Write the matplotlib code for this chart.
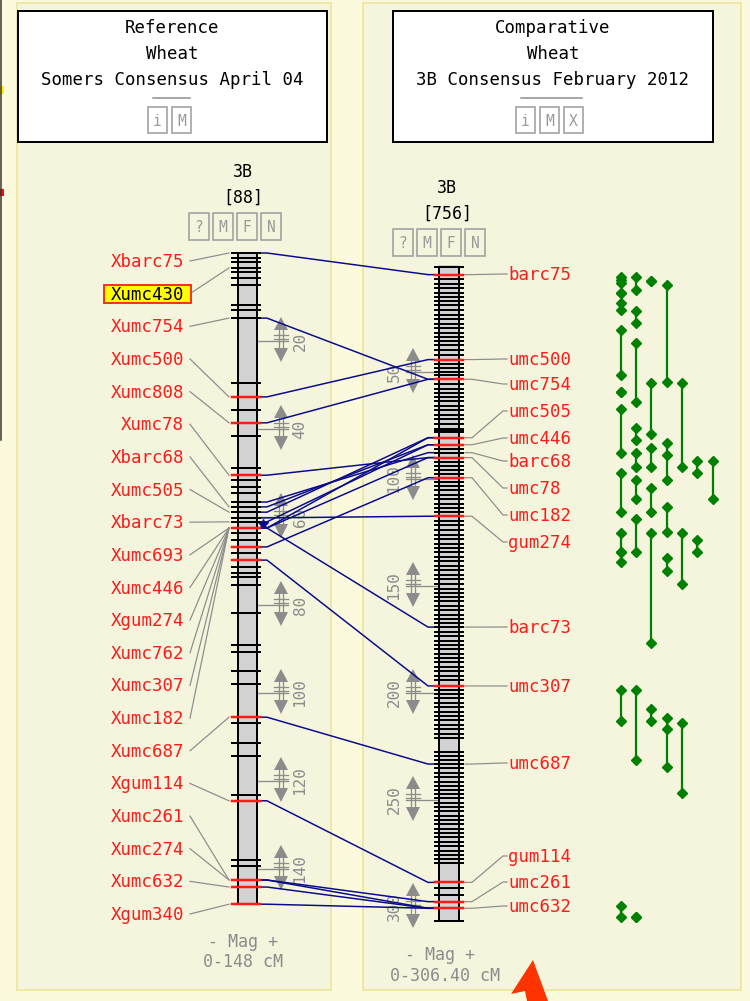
import matplotlib.pyplot as plt
from matplotlib.patches import Rectangle, Polygon

# ---- reference map : Wheat, Somers Consensus April 04, 3B, 0-148 cM
ref_len = 148.0
ref_ticks = [0, 1.1, 2.0, 3.4, 4.3, 5.7, 7.3, 11.8, 13.0, 14.8, 29.5, 32.7, 35.7,
             38.6, 41.6, 48.9, 50.5, 51.6, 53.2, 54.5, 56.6, 57.7, 58.9, 60.2, 61.1,
             62.5, 63.6, 65.2, 66.8, 68.2, 69.8, 71.4, 72.7, 73.6, 75.5, 81.8, 89.1,
             90.7, 95.0, 97.9, 105.5, 106.8, 111.4, 114.3, 123.2, 124.5, 138.0,
             139.3, 142.5, 144.1, 148.0]
ref_red = [32.7, 38.6, 50.5, 62.5, 66.8, 69.8, 105.5, 124.5, 142.5, 144.1, 148.0]
ref_names = ["Xbarc75", "Xumc430", "Xumc754", "Xumc500", "Xumc808", "Xumc78",
             "Xbarc68", "Xumc505", "Xbarc73", "Xumc693", "Xumc446", "Xgum274",
             "Xumc762", "Xumc307", "Xumc182", "Xumc687", "Xgum114", "Xumc261",
             "Xumc274", "Xumc632", "Xgum340"]
ref_name_cm = [0, 3.4, 14.8, 32.7, 38.6, 50.5, 57.7, 58.9, 61.1, 62.5, 62.5, 62.5,
               62.5, 62.5, 62.5, 105.5, 124.5, 142.5, 142.5, 144.1, 148.0]
ref_scale = [20, 40, 60, 80, 100, 120, 140]

# ---- comparative map : Wheat, 3B Consensus February 2012, 3B, 0-306.40 cM
comp_len = 306.4
comp_ticks = [0.9, 4.5, 6.7, 8.7, 10.7, 12.9, 14.9, 17.0, 18.9, 21.2, 23.2, 25.4,
              27.4, 29.4, 31.6, 33.6, 35.7, 37.5, 39.9, 41.9, 44.2, 46.1, 48.1,
              50.0, 51.6, 53.4, 55.5, 57.8, 59.7, 61.7, 63.7, 65.9, 67.9, 69.9,
              72.1, 74.1, 76.5, 77.3, 77.9, 80.7, 84.0, 85.8, 87.7, 90.0, 92.1,
              93.9, 95.9, 97.5, 99.4, 101.4, 103.3, 105.3, 107.3, 109.5, 111.5,
              113.6, 115.4, 117.4, 119.8, 121.7, 124.0, 126.0, 127.9, 130.2, 132.2,
              134.1, 136.5, 138.5, 140.7, 142.7, 144.7, 146.9, 148.9, 151.3, 153.4,
              155.2, 157.2, 159.5, 161.4, 163.4, 165.4, 167.2, 169.2, 171.3, 173.5,
              175.5, 177.5, 179.4, 181.7, 183.7, 185.6, 187.9, 189.9, 192.0, 193.9,
              196.7, 198.6, 200.5, 202.5, 204.5, 206.6, 208.8, 210.8, 212.8, 214.9,
              216.9, 219.0, 221.0, 227.4, 229.3, 231.3, 233.2, 235.2, 237.2, 239.4,
              241.4, 243.5, 245.3, 247.4, 249.2, 251.2, 253.1, 255.2, 257.3, 259.3,
              261.4, 263.6, 265.6, 267.5, 269.5, 271.5, 273.7, 275.7, 277.7, 279.6,
              288.5, 291.3, 294.4, 297.5, 300.6, 306.4]
comp_red = [4.5, 44.2, 53.4, 80.7, 84.0, 90.0, 99.4, 117.4, 196.7, 288.5, 297.5, 300.6]
comp_names = ["barc75", "umc500", "umc754", "umc505", "umc446", "barc68", "umc78",
              "umc182", "gum274", "barc73", "umc307", "umc687", "gum114", "umc261",
              "umc632"]
comp_name_cm = [4.5, 44.2, 53.4, 80.7, 84.0, 87.7, 90.0, 99.4, 117.4, 169.2, 196.7,
                233.2, 288.5, 297.5, 300.6]
comp_scale = [50, 100, 150, 200, 250, 300]

# ---- correspondences (ref cM -> comp cM)
link_ref = [0, 14.8, 32.7, 38.6, 50.5, 56.6, 57.7, 58.9, 61.1, 62.5, 62.5, 60.2,
            66.8, 62.5, 69.8, 105.5, 124.5, 142.5, 142.5, 144.1, 148.0]
link_comp = [4.5, 53.4, 44.2, 53.4, 90.0, 87.7, 84.0, 80.7, 84.0, 80.7, 90.0, 117.4,
             99.4, 169.2, 196.7, 233.2, 288.5, 297.5, 300.6, 300.6, 300.6]

# ---- green correspondence spans beside the comparative map (column, top, bottom cM)
span_col = [1, 1, 1, 1, 1, 1, 1, 1, 1, 1, 1,
            2, 2, 2, 2, 2, 2, 2, 2, 2,
            3, 3, 3, 3, 3, 3,
            4, 4, 4, 4, 4,
            5, 5, 5,
            6, 6,
            7]
span_top = [5.6, 13.1, 17.8, 30.4, 59.3, 67.3, 97.2, 125.2, 134.1, 198.6, 299.5,
            5.6, 21.5, 36.4, 76.2, 87.9, 100.5, 118.7, 198.6, 304.7,
            7.5, 55.1, 85.5, 104.2, 125.2, 207.5,
            9.3, 83.2, 113.1, 136.9, 211.7,
            55.1, 125.2, 214.0,
            91.6, 128.5,
            91.6]
span_bot = [8.4, 13.1, 21.0, 51.4, 59.3, 87.9, 115.4, 134.1, 138.8, 213.1, 304.7,
            11.7, 27.1, 64.0, 81.8, 94.4, 109.3, 134.1, 231.3, 304.7,
            7.5, 79.0, 94.4, 115.4, 176.6, 213.1,
            54.7, 100.5, 124.8, 143.0, 234.6,
            94.4, 149.1, 246.7,
            97.2, 134.1,
            109.3]
extra_col = [4, 4, 1]
extra_cm = [88.8, 216.8, 7.0]

# ---------------------------------------------------------------------------
FONT = "DejaVu Sans Mono"
NAVY = "#0a0a8c"
GREY = "#8c8c8c"
RED = "#ff1a1a"
PX = 0.72  # one pixel in points at 100 dpi

def ry(cm):
    return 253 + cm * 4.4

def cy(cm):
    return 265 + cm * 2.14

fig = plt.figure(figsize=(7.5, 10.01), dpi=100, facecolor="#fbfadc")
ax = fig.add_axes([0, 0, 1, 1])
ax.set_xlim(0, 750)
ax.set_ylim(1001, 0)
ax.axis("off")

# panels
for x0, x1 in [(17, 331), (363, 741)]:
    ax.add_patch(Rectangle((x0, 3), x1 - x0, 987, facecolor="#f5f4dc",
                           edgecolor="#efe7a6", lw=2 * PX, zorder=0))
# bits of the neighbouring panel at the far left
ax.plot([1, 1], [0, 440], color="#333333", lw=1.5 * PX)
ax.add_patch(Rectangle((0, 86), 4, 8, facecolor="#ffee00", edgecolor="none"))
ax.add_patch(Rectangle((0, 189), 4, 7, facecolor="#ee1111", edgecolor="none"))


def button_row(xs, y, letters, w=19, h=26, fill="white"):
    for x, ch in zip(xs, letters):
        ax.add_patch(Rectangle((x, y), w, h, facecolor=fill, edgecolor="#a0a0a0",
                               lw=1.6 * PX, zorder=3))
        ax.text(x + w / 2, y + h / 2 + 1, ch, ha="center", va="center", color="#9a9a9a",
                fontsize=10.5, family=FONT, zorder=4)


# title boxes
def title_box(x0, x1, lines, xs, letters, rule):
    ax.add_patch(Rectangle((x0, 11), x1 - x0, 131, facecolor="white",
                           edgecolor="black", lw=2 * PX, zorder=2))
    xc = (x0 + x1) / 2
    for i, t in enumerate(lines):
        ax.text(xc, 28 + 26 * i, t, ha="center", va="center", fontsize=12.5,
                family=FONT, color="black", zorder=3)
    ax.plot(rule, [98, 98], color="#8c8c8c", lw=1.5 * PX, zorder=3)
    button_row(xs, 107, letters)


title_box(18, 327, ["Reference", "Wheat", "Somers Consensus April 04"],
          [148, 172], ["i", "M"], [153, 190])
title_box(393, 713, ["Comparative", "Wheat", "3B Consensus February 2012"],
          [516, 540, 564], ["i", "M", "X"], [521, 582])

# map headers
ax.text(243, 172, "3B", ha="center", va="center", fontsize=12, family=FONT)
ax.text(243, 198, "[88]", ha="center", va="center", fontsize=12, family=FONT)
button_row([189, 213, 237, 261], 213, ["?", "M", "F", "N"], w=20, h=27, fill="#f5f4dc")
ax.text(447, 188, "3B", ha="center", va="center", fontsize=12, family=FONT)
ax.text(447, 214, "[756]", ha="center", va="center", fontsize=12, family=FONT)
button_row([393, 417, 441, 465], 229, ["?", "M", "F", "N"], w=20, h=27, fill="#f5f4dc")


# scale glyphs
def scale_mark(xa, y, label, xnum, lx0, lx1):
    ax.plot([lx0, lx1], [y, y], color=GREY, lw=1.3 * PX, zorder=4)
    ax.add_patch(Polygon([(xa, y - 24), (xa - 7, y - 11), (xa + 7, y - 11)],
                         closed=True, color=GREY, lw=0, zorder=4))
    ax.add_patch(Polygon([(xa - 7, y + 7), (xa + 7, y + 7), (xa, y + 21)],
                         closed=True, color=GREY, lw=0, zorder=4))
    for dx in (-2, 2):
        ax.plot([xa + dx, xa + dx], [y - 11, y + 7], color=GREY, lw=1.3 * PX, zorder=4)
    for dy in (-6, -2):
        ax.plot([xa - 7, xa + 7], [y + dy, y + dy], color=GREY, lw=1.3 * PX, zorder=4)
    ax.text(xnum, y, str(label), rotation=90, ha="center", va="center", color=GREY,
            fontsize=11.5, family=FONT, zorder=4)


for v in ref_scale:
    scale_mark(281, ry(v), v, 300, 238, 288)
for v in comp_scale:
    scale_mark(413, cy(v), v, 394, 406, 458)

# correspondence lines
for a, b in zip(link_ref, link_comp):
    ax.plot([260, 267, 428, 435], [ry(a), ry(a), cy(b), cy(b)], color=NAVY,
            lw=1.5 * PX, zorder=5)
ax.plot([263], [ry(61.6)], marker="*", color=NAVY, ms=7, zorder=6)

# reference bar
ax.add_patch(Rectangle((237, ry(0)), 20, ry(ref_len) - ry(0), facecolor="#d2d2d2",
                       edgecolor="none", zorder=6))
for xb in (237.5, 256.5):
    ax.plot([xb, xb], [ry(0), ry(ref_len)], color="black", lw=2 * PX, zorder=7)
for t in ref_ticks:
    red = t in ref_red
    ax.plot([232, 260], [ry(t), ry(t)], color=RED if red else "black",
            lw=(2.5 if red else 2) * PX, zorder=9 if red else 8)

# comparative bar
ax.add_patch(Rectangle((438, cy(0)), 21, cy(comp_len) - cy(0), facecolor="#d2d2d2",
                       edgecolor="none", zorder=6))
for xb in (438.5, 458.5):
    ax.plot([xb, xb], [cy(0.9), cy(comp_len)], color="black", lw=2 * PX, zorder=7)
for t in comp_ticks:
    red = t in comp_red
    ax.plot([435, 463], [cy(t), cy(t)], color=RED if red else "black",
            lw=(2.5 if red else 2) * PX, zorder=9 if red else 8)

# reference labels
for i, (name, cm) in enumerate(zip(ref_names, ref_name_cm)):
    ly = 261 + 32.65 * i
    ax.plot([190, 229], [ly, ry(cm)], color=GREY, lw=1.2 * PX, zorder=5)
    if name == "Xumc430":
        ax.add_patch(Rectangle((104, ly - 9), 87, 18, facecolor="#ffff00",
                               edgecolor=RED, lw=1.8 * PX, zorder=6))
        ax.text(184, ly + 1, name, ha="right", va="center", color="black",
                fontsize=12.5, family=FONT, zorder=7)
    else:
        ax.text(184, ly + 1, name, ha="right", va="center", color=RED,
                fontsize=12.5, family=FONT, zorder=7)

# comparative labels (layout positions)
comp_label_y = [274, 359, 384, 411, 438, 461, 488, 515, 542, 627, 686, 763, 856, 882, 906]
for name, cm, ly in zip(comp_names, comp_name_cm, comp_label_y):
    my = cy(cm)
    ax.plot([465, 472, 503, 507], [my, my, ly, ly], color=GREY, lw=1.2 * PX, zorder=5)
    ax.text(508, ly + 1, name, ha="left", va="center", color=RED, fontsize=12.5,
            family=FONT, zorder=7)

# green spans
col_x = {1: 621, 2: 636, 3: 651, 4: 667, 5: 682, 6: 697, 7: 713}
for c, a, b in zip(span_col, span_top, span_bot):
    x = col_x[c]
    ax.plot([x, x], [cy(a), cy(b)], color="#008000", lw=2.2 * PX, zorder=5)
    ax.plot([x, x], [cy(a), cy(b)], ls="none", marker="D", ms=5.5, color="#008000",
            mec="#008000", zorder=6)
for c, a in zip(extra_col, extra_cm):
    ax.plot([col_x[c]], [cy(a)], ls="none", marker="D", ms=5.5, color="#008000", zorder=6)

# magnification footers
ax.text(243, 942, "- Mag +", ha="center", va="center", color=GREY, fontsize=12, family=FONT)
ax.text(243, 962, "0-148 cM", ha="center", va="center", color=GREY, fontsize=12, family=FONT)
ax.text(440, 955, "- Mag +", ha="center", va="center", color=GREY, fontsize=12, family=FONT)
ax.text(445, 976, "0-306.40 cM", ha="center", va="center", color=GREY, fontsize=12,
        family=FONT)

# red pointer arrow at the bottom
ax.add_patch(Polygon([(533, 960), (511, 994), (525, 991), (527, 1001), (548, 1001)],
                     closed=True, color="#ff3300", lw=0, zorder=9))

fig.savefig("out.png", dpi=100, facecolor=fig.get_facecolor())
